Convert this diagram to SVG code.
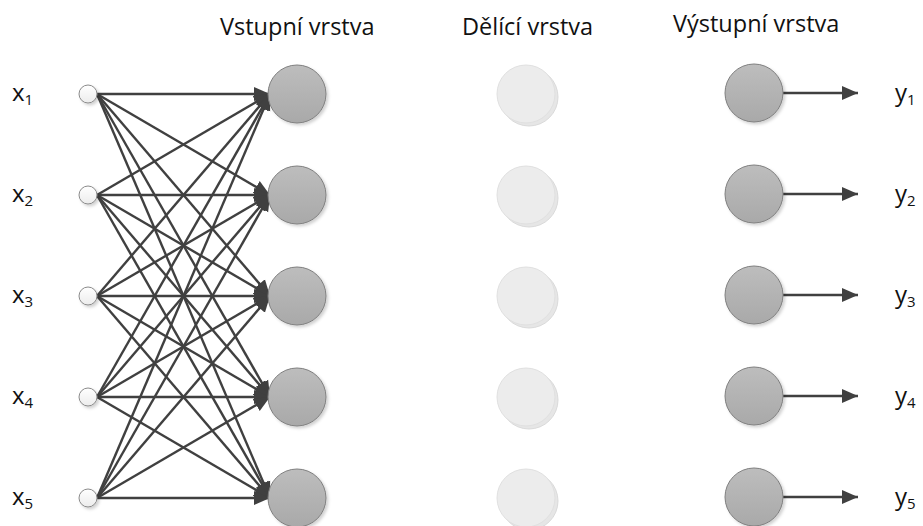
<svg xmlns="http://www.w3.org/2000/svg" width="923" height="526" viewBox="0 0 923 526">
  <defs>
    <style>
      .lbl { font-family: "Open Sans", "Liberation Sans", sans-serif; fill: #111; }
      .head { font-size: 23.5px; }
      .var { font-size: 24px; }
      .sub { font-size: 15px; }
      .edge { stroke: #404040; stroke-width: 2.4; fill: none; }
      .in { fill: url(#gIn); stroke: #8a8a8a; stroke-width: 1; filter: url(#sh); }
      .hid { fill: url(#gHid); stroke: #7f7f7f; stroke-width: 1; filter: url(#sh); }
      .div { fill: #ececec; stroke: #e0e0e0; stroke-width: 1; }
      .divsh { fill: #e6e6e6; stroke: #dadada; stroke-width: 1; }
    </style>
    <linearGradient id="gIn" x1="0" y1="0" x2="0" y2="1">
      <stop offset="0" stop-color="#ffffff"/>
      <stop offset="1" stop-color="#ececec"/>
    </linearGradient>
    <linearGradient id="gHid" x1="0" y1="0" x2="0" y2="1">
      <stop offset="0" stop-color="#bdbdbd"/>
      <stop offset="1" stop-color="#a9a9a9"/>
    </linearGradient>
    <filter id="sh" x="-30%" y="-30%" width="160%" height="160%">
      <feDropShadow dx="2" dy="2" stdDeviation="1.5" flood-color="#000" flood-opacity="0.18"/>
    </filter>
    <marker id="arr" markerUnits="userSpaceOnUse" markerWidth="18" markerHeight="16" refX="16" refY="8" orient="auto">
      <path d="M0,1 L16,8 L0,15 z" fill="#404040"/>
    </marker>
  </defs>

  <!-- layer headings -->
  <text class="lbl head" x="220" y="35">Vstupní vrstva</text>
  <text class="lbl head" x="462" y="35">Dělící vrstva</text>
  <text class="lbl head" x="673" y="32">Výstupní vrstva</text>

  <!-- fully connected input edges -->
  <g id="connectors">
    <g id="edges-in">
      <line class="edge" x1="97" y1="94" x2="270" y2="94" marker-end="url(#arr)"/>
      <line class="edge" x1="97" y1="94" x2="270" y2="195" marker-end="url(#arr)"/>
      <line class="edge" x1="97" y1="94" x2="270" y2="296" marker-end="url(#arr)"/>
      <line class="edge" x1="97" y1="94" x2="270" y2="397" marker-end="url(#arr)"/>
      <line class="edge" x1="97" y1="94" x2="270" y2="498" marker-end="url(#arr)"/>
      <line class="edge" x1="97" y1="195" x2="270" y2="94" marker-end="url(#arr)"/>
      <line class="edge" x1="97" y1="195" x2="270" y2="195" marker-end="url(#arr)"/>
      <line class="edge" x1="97" y1="195" x2="270" y2="296" marker-end="url(#arr)"/>
      <line class="edge" x1="97" y1="195" x2="270" y2="397" marker-end="url(#arr)"/>
      <line class="edge" x1="97" y1="195" x2="270" y2="498" marker-end="url(#arr)"/>
      <line class="edge" x1="97" y1="296" x2="270" y2="94" marker-end="url(#arr)"/>
      <line class="edge" x1="97" y1="296" x2="270" y2="195" marker-end="url(#arr)"/>
      <line class="edge" x1="97" y1="296" x2="270" y2="296" marker-end="url(#arr)"/>
      <line class="edge" x1="97" y1="296" x2="270" y2="397" marker-end="url(#arr)"/>
      <line class="edge" x1="97" y1="296" x2="270" y2="498" marker-end="url(#arr)"/>
      <line class="edge" x1="97" y1="397" x2="270" y2="94" marker-end="url(#arr)"/>
      <line class="edge" x1="97" y1="397" x2="270" y2="195" marker-end="url(#arr)"/>
      <line class="edge" x1="97" y1="397" x2="270" y2="296" marker-end="url(#arr)"/>
      <line class="edge" x1="97" y1="397" x2="270" y2="397" marker-end="url(#arr)"/>
      <line class="edge" x1="97" y1="397" x2="270" y2="498" marker-end="url(#arr)"/>
      <line class="edge" x1="97" y1="498" x2="270" y2="94" marker-end="url(#arr)"/>
      <line class="edge" x1="97" y1="498" x2="270" y2="195" marker-end="url(#arr)"/>
      <line class="edge" x1="97" y1="498" x2="270" y2="296" marker-end="url(#arr)"/>
      <line class="edge" x1="97" y1="498" x2="270" y2="397" marker-end="url(#arr)"/>
      <line class="edge" x1="97" y1="498" x2="270" y2="498" marker-end="url(#arr)"/>
    </g>
    <g id="edges-out">
      <line class="edge" x1="783" y1="93" x2="858" y2="93" marker-end="url(#arr)"/>
      <line class="edge" x1="783" y1="194" x2="858" y2="194" marker-end="url(#arr)"/>
      <line class="edge" x1="783" y1="295" x2="858" y2="295" marker-end="url(#arr)"/>
      <line class="edge" x1="783" y1="396" x2="858" y2="396" marker-end="url(#arr)"/>
      <line class="edge" x1="783" y1="497" x2="858" y2="497" marker-end="url(#arr)"/>
    </g>
  </g>

  <!-- input labels and points -->
  <g id="in1"><circle class="in" cx="88" cy="94" r="9"/><text class="lbl var" x="12" y="101">x<tspan class="sub" dy="4">1</tspan></text></g>
  <g id="in2"><circle class="in" cx="88" cy="195" r="9"/><text class="lbl var" x="12" y="202">x<tspan class="sub" dy="4">2</tspan></text></g>
  <g id="in3"><circle class="in" cx="88" cy="296" r="9"/><text class="lbl var" x="12" y="303">x<tspan class="sub" dy="4">3</tspan></text></g>
  <g id="in4"><circle class="in" cx="88" cy="397" r="9"/><text class="lbl var" x="12" y="404">x<tspan class="sub" dy="4">4</tspan></text></g>
  <g id="in5"><circle class="in" cx="88" cy="498" r="9"/><text class="lbl var" x="12" y="505">x<tspan class="sub" dy="4">5</tspan></text></g>

  <!-- input layer neurons -->
  <g id="v1"><circle class="hid" cx="297" cy="94" r="29"/></g>
  <g id="v2"><circle class="hid" cx="297" cy="195" r="29"/></g>
  <g id="v3"><circle class="hid" cx="297" cy="296" r="29"/></g>
  <g id="v4"><circle class="hid" cx="297" cy="397" r="29"/></g>
  <g id="v5"><circle class="hid" cx="297" cy="498" r="29"/></g>

  <!-- splitting layer (faded) -->
  <g id="d1"><circle class="divsh" cx="529" cy="97" r="29"/><circle class="div" cx="526" cy="94" r="29"/></g>
  <g id="d2"><circle class="divsh" cx="529" cy="198" r="29"/><circle class="div" cx="526" cy="195" r="29"/></g>
  <g id="d3"><circle class="divsh" cx="529" cy="299" r="29"/><circle class="div" cx="526" cy="296" r="29"/></g>
  <g id="d4"><circle class="divsh" cx="529" cy="400" r="29"/><circle class="div" cx="526" cy="397" r="29"/></g>
  <g id="d5"><circle class="divsh" cx="529" cy="501" r="29"/><circle class="div" cx="526" cy="498" r="29"/></g>

  <!-- output layer neurons -->
  <g id="o1"><circle class="hid" cx="754" cy="93" r="29"/></g>
  <g id="o2"><circle class="hid" cx="754" cy="194" r="29"/></g>
  <g id="o3"><circle class="hid" cx="754" cy="295" r="29"/></g>
  <g id="o4"><circle class="hid" cx="754" cy="396" r="29"/></g>
  <g id="o5"><circle class="hid" cx="754" cy="497" r="29"/></g>

  <!-- output labels -->
  <g id="out1"><text class="lbl var" x="895" y="101">y<tspan class="sub" dy="4">1</tspan></text></g>
  <g id="out2"><text class="lbl var" x="895" y="202">y<tspan class="sub" dy="4">2</tspan></text></g>
  <g id="out3"><text class="lbl var" x="895" y="303">y<tspan class="sub" dy="4">3</tspan></text></g>
  <g id="out4"><text class="lbl var" x="895" y="404">y<tspan class="sub" dy="4">4</tspan></text></g>
  <g id="out5"><text class="lbl var" x="895" y="505">y<tspan class="sub" dy="4">5</tspan></text></g>
</svg>
